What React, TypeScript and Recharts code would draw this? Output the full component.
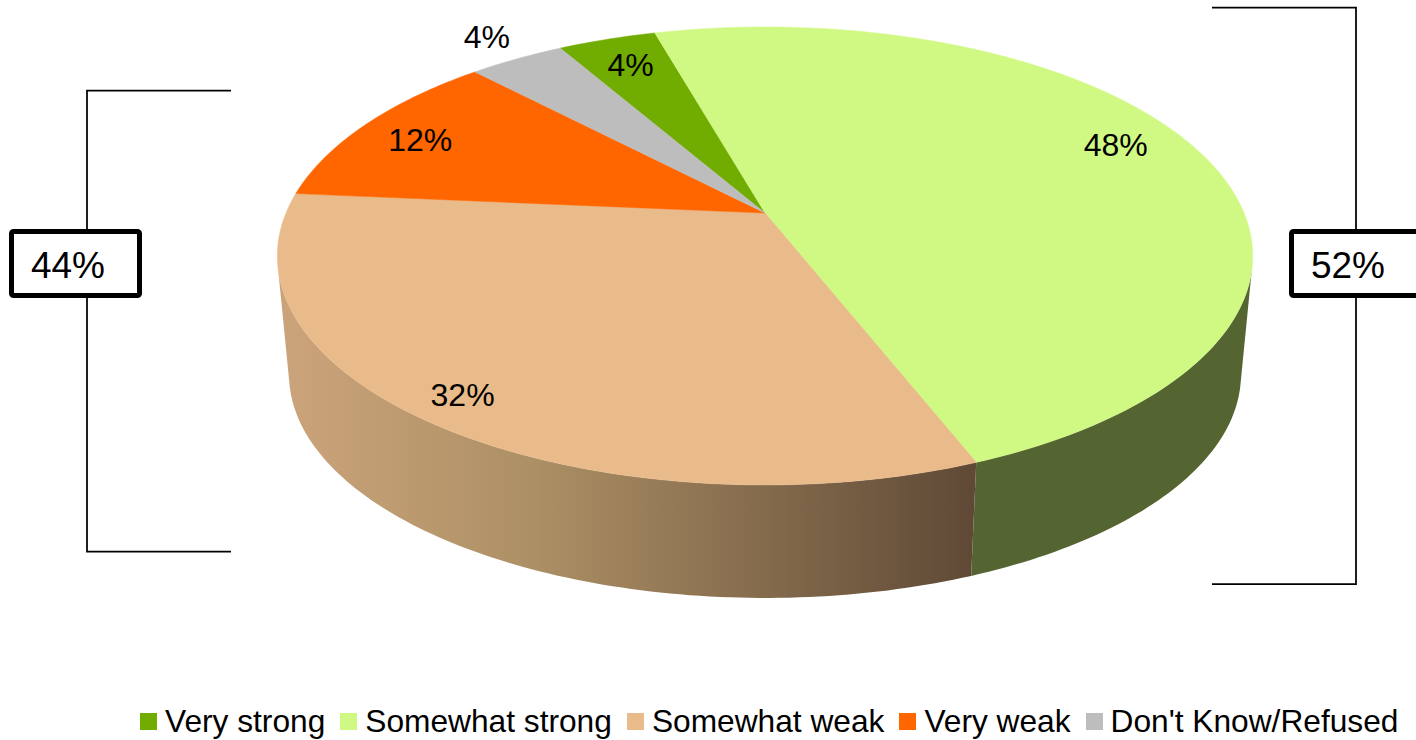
import { PieChart, Pie, Legend } from "recharts";

const categories = ["Very strong", "Somewhat strong", "Somewhat weak", "Very weak", "Don't Know/Refused"];
const shares = [3.9, 48.45, 32.35, 11.5, 3.8];
const topColors = ["#70ad00", "#d0f984", "#eabb8a", "#ff6600", "#bdbdbd"];
const sideColors = ["#38560a", "#556532", "url(#tanWall)", "#803300", "#5e5e5e"];
const groupLabels = ["44%", "52%"];

const topRows = categories.map((name, i) => ({ name, value: shares[i], fill: topColors[i] }));
const sideRows = categories.map((name, i) => ({ name, value: shares[i], fill: sideColors[i] }));

const FONT = "'Liberation Sans', Arial, sans-serif";

// fake perspective: near edge of the disc is bigger than the far edge
const TILT = 0.1877;
const SQUASH = 0.4612;
const DEPTH_SCALE = 0.976;
const DEPTH_DROP = 119.5;

// nudges to get the labels where the original has them
const labelNudge = [
  [-4, -5],
  [4, -14],
  [-41, 21],
  [-21, -1],
  [-74, -49],
];

function project(cx: number, cy: number, r: number, angle: number, f = 1) {
  const t = ((90 - angle) * Math.PI) / 180;
  const u = Math.sin(t) * f;
  const v = -Math.cos(t) * f;
  const w = 1 - TILT * v;
  return [cx + (r * u) / w, cy + (r * SQUASH * v) / w];
}

function lower(p: number[], cx: number, cy: number) {
  return [cx + (p[0] - cx) * DEPTH_SCALE, cy + DEPTH_DROP + (p[1] - cy) * DEPTH_SCALE];
}

function TopFace(props: any) {
  const { cx, cy, outerRadius, startAngle, endAngle, fill } = props;
  const steps = Math.max(2, Math.ceil(Math.abs(endAngle - startAngle)));
  let d = `M${cx},${cy}`;
  for (let i = 0; i <= steps; i++) {
    const p = project(cx, cy, outerRadius, startAngle + ((endAngle - startAngle) * i) / steps);
    d += `L${p[0].toFixed(2)},${p[1].toFixed(2)}`;
  }
  return <path d={d + "Z"} fill={fill} stroke={fill} strokeWidth={0.5} />;
}

function SideWall(props: any) {
  const { cx, cy, outerRadius, startAngle, endAngle, fill } = props;
  const steps = Math.max(2, Math.ceil(Math.abs(endAngle - startAngle)));
  let d = "";
  for (let i = 0; i < steps; i++) {
    const a = project(cx, cy, outerRadius, startAngle + ((endAngle - startAngle) * i) / steps);
    const b = project(cx, cy, outerRadius, startAngle + ((endAngle - startAngle) * (i + 1)) / steps);
    const c = lower(b, cx, cy);
    const e = lower(a, cx, cy);
    // only the quads that face the viewer
    const cross = (b[0] - a[0]) * (e[1] - a[1]) - (b[1] - a[1]) * (e[0] - a[0]);
    if (cross >= 0) continue;
    d += `M${a[0]},${a[1]}L${b[0]},${b[1]}L${c[0]},${c[1]}L${e[0]},${e[1]}Z`;
  }
  return <path d={d} fill={fill} />;
}

function SliceLabel(props: any) {
  const { cx, cy, outerRadius, midAngle, value, index } = props;
  const p = project(cx, cy, outerRadius, midAngle, 0.8);
  return (
    <text
      x={p[0] + labelNudge[index][0]}
      y={p[1] + labelNudge[index][1]}
      textAnchor="middle"
      dominantBaseline="central"
      fontSize={32}
      fontFamily={FONT}
      fill="#000"
    >
      {Math.round(value)}%
    </text>
  );
}

function LegendRow() {
  return (
    <div style={{ display: "flex", fontFamily: FONT, fontSize: 31.7, color: "#000", whiteSpace: "nowrap" }}>
      {categories.map((name, i) => (
        <div key={name} style={{ display: "flex", alignItems: "center", marginRight: 15 }}>
          <span style={{ width: 17, height: 17, background: topColors[i], marginRight: 8 }} />
          {name}
        </div>
      ))}
    </div>
  );
}

function Bracket({ d }: { d: string }) {
  return <path d={d} fill="none" stroke="#000" strokeWidth={1.75} />;
}

function GroupBox({ x, width, label }: { x: number; width: number; label: string }) {
  return (
    <g>
      <rect x={x} y={231.5} width={width} height={64} rx={2} fill="#fff" stroke="#000" strokeWidth={5} />
      <text x={x + 56.5} y={278} textAnchor="middle" fontSize={37} fontFamily={FONT} fill="#000">
        {label}
      </text>
    </g>
  );
}

export default function App() {
  return (
    <div style={{ position: "absolute", left: 0, top: 0 }}>
      <PieChart width={1416} height={740} margin={{ top: 0, right: 0, bottom: 0, left: 0 }}>
        <defs>
          <linearGradient id="tanWall" gradientUnits="userSpaceOnUse" x1={290} y1={0} x2={975} y2={0}>
            <stop offset="0" stopColor="#cba37a" />
            <stop offset="0.35" stopColor="#ad9065" />
            <stop offset="1" stopColor="#5f4936" />
          </linearGradient>
        </defs>
        <Pie
          data={sideRows}
          dataKey="value"
          nameKey="name"
          cx={765}
          cy={213}
          outerRadius={479}
          startAngle={119.8}
          endAngle={-240.2}
          legendType="none"
          shape={SideWall}
          isAnimationActive={false}
        />
        <Pie
          data={topRows}
          dataKey="value"
          nameKey="name"
          cx={765}
          cy={213}
          outerRadius={479}
          startAngle={119.8}
          endAngle={-240.2}
          shape={TopFace}
          label={SliceLabel}
          labelLine={false}
          isAnimationActive={false}
        />
        <Bracket d="M231,90.5H87V551.5H231" />
        <Bracket d="M1212,7.5H1356V584H1212" />
        <GroupBox x={11.5} width={128} label={groupLabels[0]} />
        <GroupBox x={1291.5} width={140} label={groupLabels[1]} />
        <Legend content={LegendRow} wrapperStyle={{ left: 140, top: 703, width: "auto", bottom: "auto" }} />
      </PieChart>
    </div>
  );
}
